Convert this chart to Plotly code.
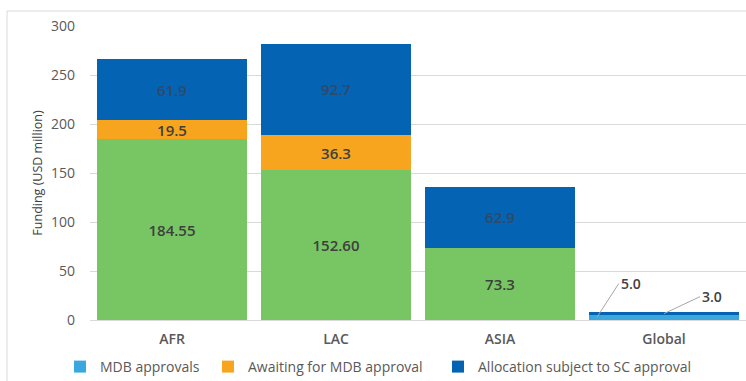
import plotly.graph_objects as go

# Funding by region (USD million)
regions = ["AFR", "LAC", "ASIA", "Global"]
mdb_approvals = [184.55, 152.60, 73.3, 5.0]
awaiting_mdb = [19.5, 36.3, 0.0, 0.0]
allocation_sc = [61.9, 92.7, 62.9, 3.0]
mdb_decimals = [2, 2, 1, 1]

y_ticks = [0, 50, 100, 150, 200, 250, 300]

GREEN = "#77C663"
LIGHT_BLUE = "#3AA8DE"
ORANGE = "#F7A51E"
DARK_BLUE = "#0563B3"
FONT = "Open Sans"

# Plot-area geometry in pixels (used to place the frame and legends in paper units)
W, H = 746, 381
L, R, T, B = 90, 0, 26, 61
pw, ph = W - L - R, H - T - B


def px_to_paper_x(px):
    return (px - L) / pw


def px_to_paper_y(py):
    return (H - B - py) / ph


def fmt(v, d=1):
    return f"{v:.{d}f}" if v > 0 else ""


label_font = dict(family=FONT, size=15, color="#3F3F3F", weight=600)
blue_label_font = dict(family=FONT, size=15, color="#2F4A68", weight=600)

fig = go.Figure()

# MDB approvals: regional bars in green, the global bar in light blue
fig.add_trace(go.Bar(
    x=regions[:3], y=mdb_approvals[:3], name="MDB approvals",
    marker=dict(color=GREEN, line=dict(width=0)),
    text=[fmt(v, d) for v, d in zip(mdb_approvals[:3], mdb_decimals[:3])],
    textposition="inside", insidetextanchor="middle", textfont=label_font,
    showlegend=False, hoverinfo="x+y",
))
fig.add_trace(go.Bar(
    x=regions[3:], y=mdb_approvals[3:], name="MDB approvals",
    marker=dict(color=LIGHT_BLUE, line=dict(width=0)),
    textposition="none", hoverinfo="x+y", legend="legend",
))
fig.add_trace(go.Bar(
    x=regions, y=awaiting_mdb, name="Awaiting for MDB approval",
    marker=dict(color=ORANGE, line=dict(width=0)),
    text=[fmt(v) for v in awaiting_mdb],
    textposition="inside", insidetextanchor="middle", textfont=label_font,
    hoverinfo="x+y", legend="legend2",
))
fig.add_trace(go.Bar(
    x=regions, y=allocation_sc, name="Allocation subject to SC approval",
    marker=dict(color=DARK_BLUE, line=dict(width=0)),
    text=[fmt(v) for v in allocation_sc[:3]] + [""],
    textposition="inside", insidetextanchor="middle", textfont=blue_label_font,
    hoverinfo="x+y", legend="legend3",
))

# Callout labels for the thin global bar
ann_font = dict(family=FONT, size=14, color="#404040", weight=600)
fig.add_annotation(
    x=2.59, y=mdb_approvals[3] / 2, xref="x", yref="y",
    text=f"{mdb_approvals[3]:.1f}", font=ann_font,
    showarrow=True, arrowhead=0, arrowwidth=1, arrowcolor="#A6A6A6",
    ax=22, ay=-34, xanchor="left",
)
fig.add_annotation(
    x=3.0, y=mdb_approvals[3] + allocation_sc[3] / 2, xref="x", yref="y",
    text=f"{allocation_sc[3]:.1f}", font=ann_font,
    showarrow=True, arrowhead=0, arrowwidth=1, arrowcolor="#A6A6A6",
    ax=36, ay=-17, xanchor="left",
)

# Outer chart frame
fig.add_shape(
    type="rect", xref="paper", yref="paper",
    x0=px_to_paper_x(7), y0=px_to_paper_y(400),
    x1=px_to_paper_x(780), y1=px_to_paper_y(11),
    line=dict(color="#D9D9D9", width=1), fillcolor="rgba(0,0,0,0)",
    layer="below",
)


def legend_at(px):
    return dict(
        orientation="h", x=px_to_paper_x(px), xanchor="left",
        y=px_to_paper_y(367), yanchor="middle",
        font=dict(family=FONT, size=14, color="#595959"),
        itemwidth=30, bgcolor="rgba(0,0,0,0)",
    )


fig.update_layout(
    width=W, height=H,
    margin=dict(l=L, r=R, t=T, b=B, autoexpand=False),
    barmode="stack", bargap=0.085,
    uniformtext=dict(minsize=12, mode="show"),
    paper_bgcolor="white", plot_bgcolor="white",
    font=dict(family=FONT, size=13, color="#595959"),
    showlegend=True,
    legend=legend_at(60),
    legend2=legend_at(208),
    legend3=legend_at(438),
    xaxis=dict(
        showgrid=False, showline=True, linecolor="#D9D9D9", linewidth=1,
        ticks="", ticklabelstandoff=6,
        tickfont=dict(family=FONT, size=14, color="#595959", weight=600),
        fixedrange=True,
    ),
    yaxis=dict(
        range=[0, 300], tickvals=y_ticks, showgrid=True,
        gridcolor="#D9D9D9", gridwidth=1, zeroline=False, showline=False,
        ticks="", ticklabelstandoff=14,
        tickfont=dict(family=FONT, size=14, color="#595959"),
        title=dict(text="Funding (USD million)", standoff=5,
                   font=dict(family=FONT, size=12.5, color="#404040")),
        fixedrange=True,
    ),
)

fig.write_html("out.html")
